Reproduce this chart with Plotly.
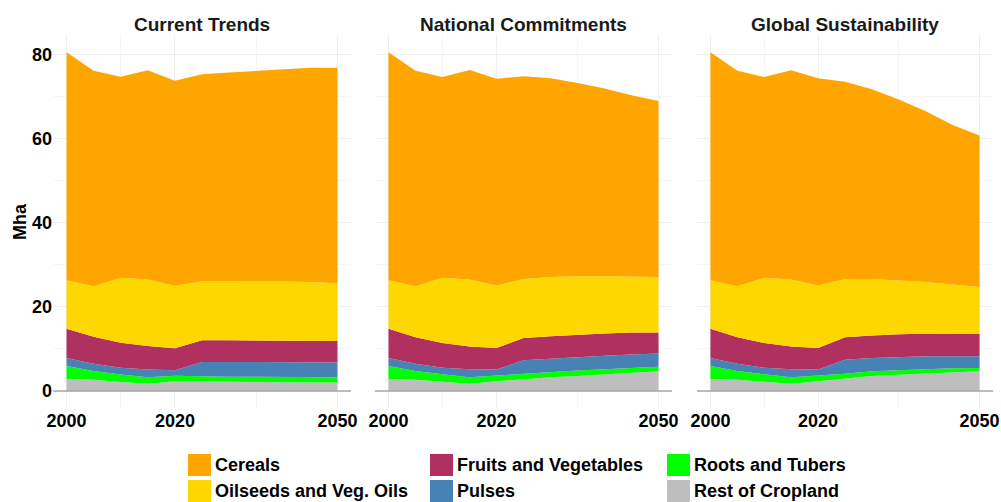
import plotly.graph_objects as go

# Projected cropland by crop group (Mha), three pathways
years = [2000, 2005, 2010, 2015, 2020, 2025, 2030, 2035, 2040, 2045, 2050]
scenarios = ["Current Trends", "National Commitments", "Global Sustainability"]

# Stacking order: bottom to top
crops = ["Rest of Cropland", "Roots and Tubers", "Pulses",
         "Fruits and Vegetables", "Oilseeds and Veg. Oils", "Cereals"]
crop_colors = {
    "Cereals": "#FFA500",
    "Oilseeds and Veg. Oils": "#FFD700",
    "Fruits and Vegetables": "#B03060",
    "Pulses": "#4682B4",
    "Roots and Tubers": "#00FF00",
    "Rest of Cropland": "#BEBEBE",
}

ct_rest = [2.85, 2.7, 2.15, 1.75, 2.3, 2.2, 2.15, 2.15, 2.1, 2.1, 2.0]
ct_roots = [3.1, 2.05, 1.8, 1.5, 1.35, 1.25, 1.25, 1.25, 1.3, 1.25, 1.3]
ct_pulses = [1.9, 1.75, 1.6, 1.85, 1.3, 3.45, 3.5, 3.5, 3.5, 3.5, 3.5]
ct_fruits = [6.95, 6.4, 5.9, 5.6, 5.2, 5.15, 5.15, 5.15, 5.1, 5.15, 5.1]
ct_oil = [11.5, 12.0, 15.45, 15.8, 14.85, 14.05, 14.05, 14.05, 14.0, 13.9, 13.7]
ct_cereals = [54.2, 51.2, 47.8, 49.7, 48.7, 49.2, 49.6, 50.0, 50.5, 50.9, 51.2]

nc_rest = [2.85, 2.7, 2.2, 1.75, 2.3, 2.8, 3.25, 3.55, 3.95, 4.35, 4.7]
nc_roots = [3.1, 2.05, 1.8, 1.5, 1.4, 1.3, 1.35, 1.35, 1.25, 1.2, 1.1]
nc_pulses = [1.9, 1.75, 1.55, 1.9, 1.4, 3.2, 3.1, 3.2, 3.2, 3.15, 3.1]
nc_fruits = [6.95, 6.3, 5.85, 5.45, 5.1, 5.3, 5.3, 5.3, 5.3, 5.2, 5.0]
nc_oil = [11.5, 12.1, 15.5, 15.9, 14.9, 14.0, 14.1, 13.9, 13.6, 13.3, 13.2]
nc_cereals = [54.2, 51.2, 47.7, 49.8, 49.1, 48.2, 47.2, 45.9, 44.6, 43.1, 41.8]

gs_rest = [2.85, 2.7, 2.2, 1.75, 2.3, 2.95, 3.55, 3.9, 4.2, 4.5, 4.7]
gs_roots = [3.1, 2.05, 1.8, 1.5, 1.4, 1.15, 1.15, 1.1, 1.0, 0.9, 0.8]
gs_pulses = [1.9, 1.75, 1.55, 1.9, 1.4, 3.35, 3.15, 3.1, 3.05, 2.85, 2.75]
gs_fruits = [6.95, 6.3, 5.85, 5.45, 5.1, 5.35, 5.35, 5.4, 5.35, 5.35, 5.3]
gs_oil = [11.5, 12.1, 15.5, 15.9, 14.9, 13.8, 13.4, 12.8, 12.3, 11.7, 11.15]
gs_cereals = [54.2, 51.2, 47.7, 49.7, 49.2, 46.9, 45.1, 43.0, 40.6, 37.9, 36.0]

scenario_data = {
    "Current Trends": [ct_rest, ct_roots, ct_pulses, ct_fruits, ct_oil, ct_cereals],
    "National Commitments": [nc_rest, nc_roots, nc_pulses, nc_fruits, nc_oil, nc_cereals],
    "Global Sustainability": [gs_rest, gs_roots, gs_pulses, gs_fruits, gs_oil, gs_cereals],
}

x_ticks = [2000, 2020, 2050]
x_minor = [2010, 2035]
y_ticks = [0, 20, 40, 60, 80]

W, H = 1001, 502
FONT = "Liberation Sans, Arial, sans-serif"
panel_px = [(53, 351), (375, 672), (697, 993)]
y_dom = [1 - 408 / H, 1 - 35 / H]

fig = go.Figure()
layout = {}
for i, scen in enumerate(scenarios):
    k = "" if i == 0 else str(i + 1)
    for crop, vals in zip(crops, scenario_data[scen]):
        fig.add_trace(go.Scatter(
            x=years, y=vals, xaxis="x" + k, yaxis="y" + k,
            stackgroup="s" + str(i), mode="lines",
            line=dict(width=0, color=crop_colors[crop]),
            fillcolor=crop_colors[crop], name=crop, showlegend=False,
            hoverinfo="x+y+name",
        ))
    x0, x1 = panel_px[i]
    layout["xaxis" + k] = dict(
        domain=[x0 / W, x1 / W], range=[1997.5, 2052.5], anchor="y" + k,
        tickmode="array", tickvals=x_ticks,
        ticktext=["<b>%d</b>" % v for v in x_ticks],
        ticks="", showline=False,
        zeroline=False, showgrid=True, gridcolor="#efefef", gridwidth=1,
        minor=dict(tickmode="array", tickvals=x_minor, showgrid=True,
                   gridcolor="#f6f6f6", gridwidth=1),
        tickfont=dict(family=FONT, size=18, color="#000000"),
        automargin=False, fixedrange=True,
    )
    layout["yaxis" + k] = dict(
        domain=y_dom, range=[-4.03, 84.6], anchor="x" + k,
        tickmode="array", tickvals=y_ticks,
        ticktext=["<b>%d</b>" % v for v in y_ticks],
        ticks="", showline=False,
        showticklabels=(i == 0), zeroline=False,
        showgrid=True, gridcolor="#efefef", gridwidth=1,
        minor=dict(tickmode="linear", tick0=0, dtick=10, showgrid=True,
                   gridcolor="#f6f6f6", gridwidth=1),
        tickfont=dict(family=FONT, size=18, color="#000000"),
        automargin=False, fixedrange=True,
    )
    if i > 0:
        layout["yaxis" + k]["matches"] = "y"
    # baseline along y = 0
    fig.add_shape(type="line", xref="x" + k + " domain", yref="y" + k,
                  x0=0, x1=1, y0=0, y1=0, layer="above",
                  line=dict(color="#a8a8a8", width=1.5))
    # panel title
    fig.add_annotation(text="<b>" + scen + "</b>", xref="paper", yref="paper",
                       x=(x0 + x1) / 2 / W, y=1 - 25 / H, showarrow=False,
                       xanchor="center", yanchor="middle",
                       font=dict(family=FONT, size=19, color="#1a1a1a"))

fig.add_annotation(text="<b>Mha</b>", xref="paper", yref="paper",
                   x=20 / W, y=1 - 222 / H, textangle=-90, showarrow=False,
                   xanchor="center", yanchor="middle",
                   font=dict(family=FONT, size=18, color="#000000"))

# legend, three columns filled top to bottom
legend_cols = [["Cereals", "Oilseeds and Veg. Oils"],
               ["Fruits and Vegetables", "Pulses"],
               ["Roots and Tubers", "Rest of Cropland"]]
col_x = [188, 430, 667]
row_y = [454, 480]
key_w, key_h = 23, 22
for cx, col in zip(col_x, legend_cols):
    for ry, crop in zip(row_y, col):
        fig.add_shape(type="rect", xref="paper", yref="paper",
                      x0=cx / W, x1=(cx + key_w) / W,
                      y0=1 - ry / H, y1=1 - (ry + key_h) / H,
                      fillcolor=crop_colors[crop], line=dict(width=0))
        fig.add_annotation(text="<b>" + crop + "</b>", xref="paper", yref="paper",
                           x=(cx + key_w + 2) / W, y=1 - (ry + key_h / 2) / H,
                           showarrow=False, xanchor="left", yanchor="middle",
                           font=dict(family=FONT, size=18, color="#000000"))

fig.update_layout(
    width=W, height=H, margin=dict(l=0, r=0, t=0, b=0),
    paper_bgcolor="white", plot_bgcolor="white", showlegend=False,
    **layout,
)

fig.write_html("out.html")
